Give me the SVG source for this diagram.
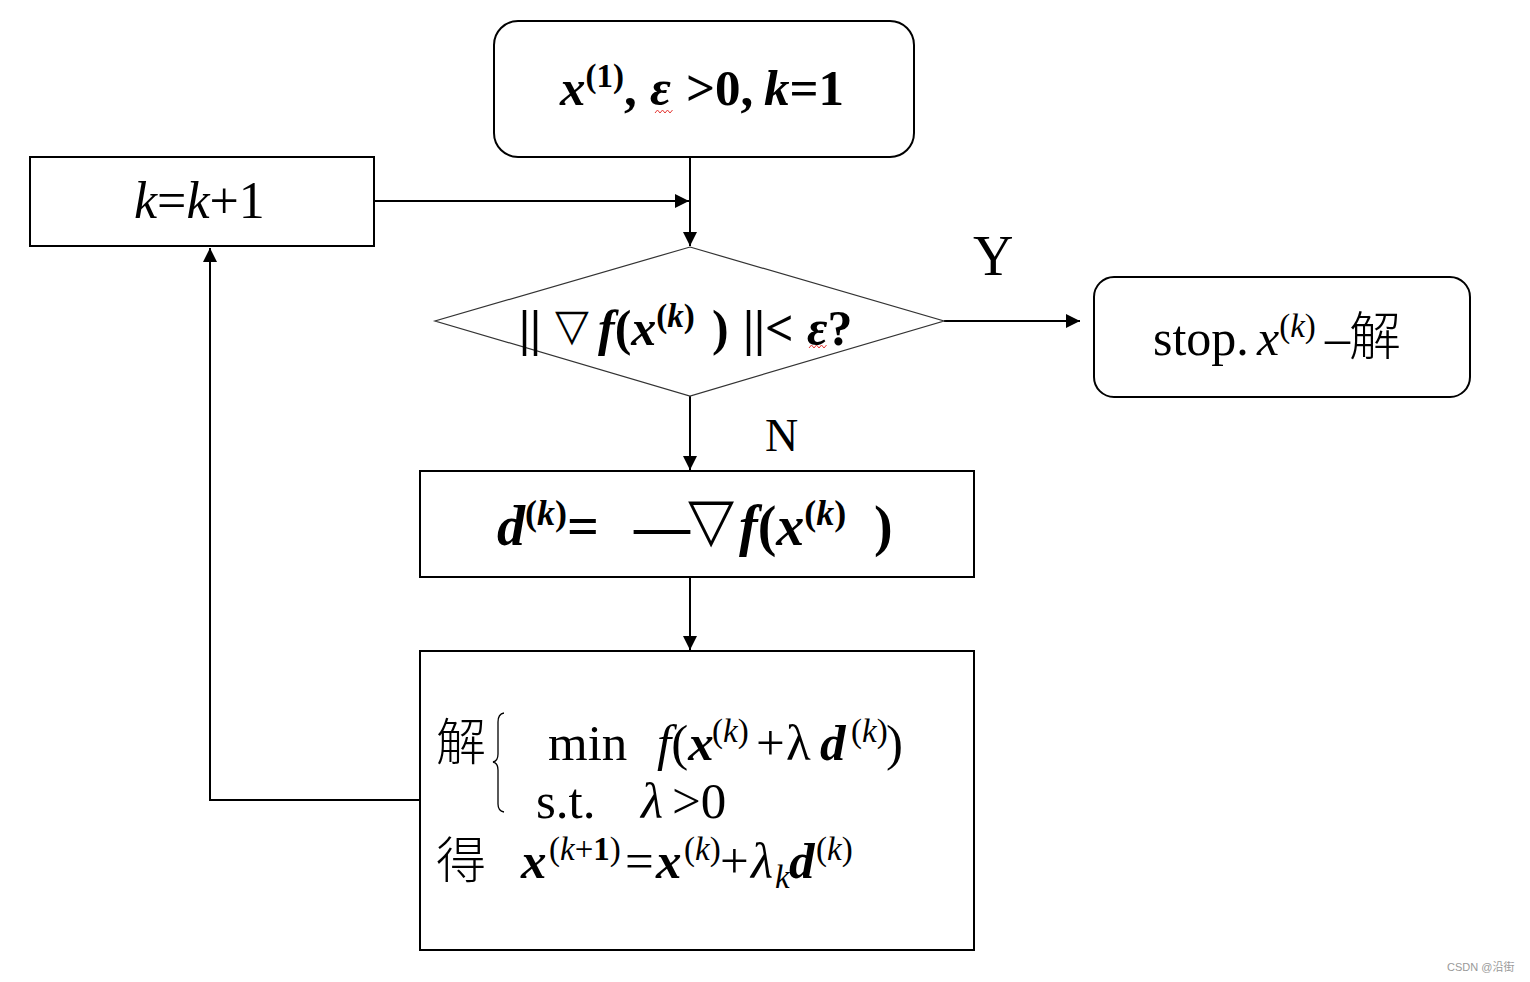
<svg xmlns="http://www.w3.org/2000/svg" width="1530" height="982" viewBox="0 0 1530 982">
<style>
.box{fill:#fff;stroke:#000;stroke-width:2}
.dia{fill:#fff;stroke:#333;stroke-width:1.2}
.ln{fill:none;stroke:#000;stroke-width:2}
.t{font-family:"Liberation Serif","Noto Sans CJK SC",serif;fill:#000}
.b{font-weight:bold}
.i{font-style:italic}
.sym{font-family:"DejaVu Sans","Liberation Serif",serif;font-weight:normal;font-style:normal}
.cjk{font-family:"Noto Sans CJK SC","Liberation Serif",serif;font-weight:300}
</style>
<defs>
<marker id="ah2" viewBox="0 0 10 10" refX="10" refY="5" markerWidth="14" markerHeight="14" markerUnits="userSpaceOnUse" orient="auto">
<path d="M0,0 L10,5 L0,10 z" fill="#000"/>
</marker>
</defs>
<rect width="1530" height="982" fill="#fff"/>
<g id="connectors">
<line class="ln" x1="690" y1="157" x2="690" y2="246" marker-end="url(#ah2)"/>
<line class="ln" x1="374" y1="201" x2="689" y2="201" marker-end="url(#ah2)"/>
<line class="ln" x1="944" y1="321" x2="1080" y2="321" marker-end="url(#ah2)"/>
<line class="ln" x1="690" y1="396" x2="690" y2="470" marker-end="url(#ah2)"/>
<line class="ln" x1="690" y1="577" x2="690" y2="650" marker-end="url(#ah2)"/>
<polyline class="ln" points="420,800 210,800 210,248" marker-end="url(#ah2)"/>
<text class="t" x="973" y="275" font-size="56">Y</text>
<text class="t" x="765" y="451" font-size="46">N</text>
</g>
<g id="start">
<rect class="box" x="494" y="21" width="420" height="136" rx="24"/>
<text class="t b" y="105" font-size="51"><tspan class="i" x="560">x</tspan><tspan font-size="33" y="87">(1)</tspan><tspan y="105">,</tspan><tspan class="i" x="650">ε</tspan><tspan x="686">&gt;0,</tspan><tspan class="i" x="764">k</tspan><tspan>=1</tspan></text>
<path d="M655,113 l2.5,-3 l2.5,3 l2.5,-3 l2.5,3 l2.5,-3 l2.5,3 l2.5,-3" fill="none" stroke="#e53935" stroke-width="1"/>
</g>
<g id="incr">
<rect class="box" x="30" y="157" width="344" height="89"/>
<text class="t" y="218" font-size="52"><tspan class="i" x="134">k</tspan><tspan>=</tspan><tspan class="i">k</tspan><tspan>+1</tspan></text>
</g>
<g id="decision">
<polygon class="dia" points="690,247 944,321 690,396 435,321"/>
<text class="t b" y="345" font-size="50"><tspan x="519">||</tspan><tspan class="sym" x="555" y="340" font-size="44">▽</tspan><tspan class="i" x="598" y="345">f</tspan><tspan>(</tspan><tspan class="i">x</tspan><tspan font-size="33" y="327">(</tspan><tspan font-size="33" class="i">k</tspan><tspan font-size="33">)</tspan><tspan y="345" x="712">)</tspan><tspan x="743">||&lt;</tspan><tspan class="i" x="807">ε</tspan><tspan>?</tspan></text>
<path d="M809,348 l2.5,-3 l2.5,3 l2.5,-3 l2.5,3 l2.5,-3 l2.5,3 l2.5,-3" fill="none" stroke="#e53935" stroke-width="1"/>
</g>
<g id="stop">
<rect class="box" x="1094" y="277" width="376" height="120" rx="20"/>
<text class="t" y="355" font-size="50"><tspan x="1153">stop.</tspan><tspan class="i" x="1257">x</tspan><tspan font-size="33" y="337">(</tspan><tspan font-size="33" class="i">k</tspan><tspan font-size="33">)</tspan><tspan y="355" x="1325">–</tspan><tspan class="cjk" x="1349" font-size="52">解</tspan></text>
</g>
<g id="direction">
<rect class="box" x="420" y="471" width="554" height="106"/>
<text class="t b" y="545" font-size="56"><tspan class="i" x="497">d</tspan><tspan font-size="36" y="525">(</tspan><tspan font-size="36" class="i">k</tspan><tspan font-size="36">)</tspan><tspan y="545">=</tspan><tspan x="634">—</tspan><tspan class="sym" x="688" y="540" font-size="60">▽</tspan><tspan class="i" x="739" y="545">f</tspan><tspan>(</tspan><tspan class="i">x</tspan><tspan font-size="36" y="525">(</tspan><tspan font-size="36" class="i">k</tspan><tspan font-size="36">)</tspan><tspan y="545" x="874">)</tspan></text>
</g>
<g id="linesearch">
<rect class="box" x="420" y="651" width="554" height="299"/>
<text class="t cjk" x="436" y="760" font-size="50">解</text>
<path d="M504,713 Q498,714 498,722 L498,754 Q498,761 493,762 Q498,763 498,770 L498,804 Q498,811 504,812" fill="none" stroke="#000" stroke-width="1.3"/>
<text class="t" y="760" font-size="51"><tspan x="548">min</tspan><tspan class="i" x="657">f</tspan><tspan>(</tspan><tspan class="b i">x</tspan><tspan font-size="33" y="742" x="712">(</tspan><tspan font-size="33" class="i">k</tspan><tspan font-size="33">)</tspan><tspan y="760" x="756">+</tspan><tspan x="786">λ</tspan><tspan class="b i" x="820">d</tspan><tspan font-size="33" y="742" x="851">(</tspan><tspan font-size="33" class="i">k</tspan><tspan font-size="33">)</tspan><tspan y="760" x="886">)</tspan></text>
<text class="t" y="818" font-size="51"><tspan x="536">s.t.</tspan><tspan class="i" x="641">λ</tspan><tspan x="672">&gt;0</tspan></text>
<text class="t cjk" x="436" y="878" font-size="50">得</text>
<text class="t" y="878" font-size="51"><tspan class="b i" x="521">x</tspan><tspan font-size="33" y="860" x="549">(</tspan><tspan font-size="33" class="i">k</tspan><tspan font-size="33">+</tspan><tspan font-size="33" class="b">1</tspan><tspan font-size="33">)</tspan><tspan y="878" x="625">=</tspan><tspan class="b i" x="656">x</tspan><tspan font-size="33" y="860" x="684">(</tspan><tspan font-size="33" class="i">k</tspan><tspan font-size="33">)</tspan><tspan y="878" x="720">+</tspan><tspan class="i" x="751">λ</tspan><tspan class="i" font-size="33" y="888" x="775">k</tspan><tspan class="b i" y="878" x="789">d</tspan><tspan font-size="33" y="860" x="816">(</tspan><tspan font-size="33" class="i">k</tspan><tspan font-size="33">)</tspan></text>
</g>
<text x="1447" y="971" font-family="Liberation Sans,'Noto Sans CJK SC',sans-serif" font-size="11" fill="#999">CSDN @沿街</text>
</svg>
